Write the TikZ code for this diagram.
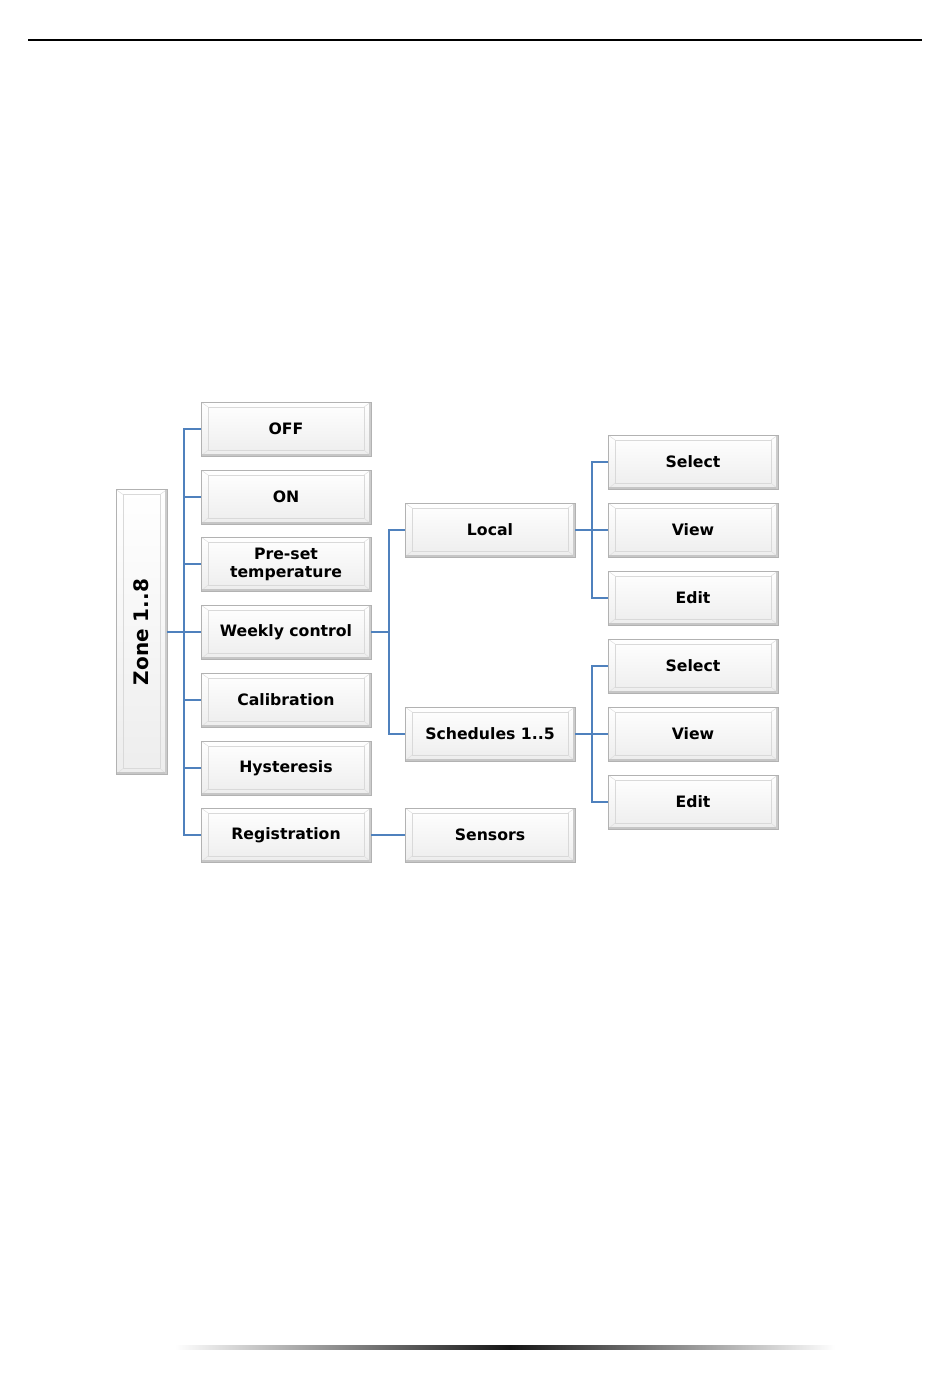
\documentclass[tikz,border=0pt]{standalone}
\usepackage{fontspec}
\newfontfamily\vfont{DejaVu Sans}
\definecolor{conn}{RGB}{79,129,189}
\begin{document}
\begin{tikzpicture}[x=1pt,y=-1pt,
  bevel/.style={
    rectangle, inner sep=0pt, draw=gray!60, line width=0.8pt,
    top color=white, bottom color=gray!14, align=center,
    path picture={
      \coordinate (nw) at (path picture bounding box.north west);
      \coordinate (se) at (path picture bounding box.south east);
      \coordinate (ne) at (path picture bounding box.north east);
      \coordinate (sw) at (path picture bounding box.south west);
      \draw[gray!30, line width=0.6pt]
        ([xshift=7pt,yshift=-5pt]nw) rectangle ([xshift=-7pt,yshift=6pt]se);
      \draw[gray!25, line width=0.5pt] (nw) -- ([xshift=7pt,yshift=-5pt]nw)
        (ne) -- ([xshift=-7pt,yshift=-5pt]ne)
        (sw) -- ([xshift=7pt,yshift=6pt]sw)
        (se) -- ([xshift=-7pt,yshift=6pt]se);
      \fill[gray!45] ([yshift=2.2pt]sw) rectangle (se);
      \fill[gray!40] ([xshift=-1.6pt]ne) rectangle (se);
    }},
  btn/.style={bevel, minimum width=170pt, minimum height=54pt,
    font=\vfont\bfseries\fontsize{15.7}{18}\selectfont},
  zonebox/.style={bevel, minimum width=51pt, minimum height=285pt,
    font=\vfont\bfseries\fontsize{20}{24}\selectfont},
  link/.style={draw=conn, line width=1.8pt}
]
\useasboundingbox (0,0) rectangle (950,1384);
% header rule
\draw[line width=1.4pt] (28,40) -- (922,40);
% footer gradient rule
\shade[left color=white, right color=black!92] (175,1345) rectangle (510,1349);
\shade[left color=black!92, right color=white] (510,1345) rectangle (835,1349);

% root
\node[zonebox] (zone) at (141.5,632) {\rotatebox{90}{Zone 1..8}};

% column 1
\node[btn] (off)   at (286,429) {OFF};
\node[btn] (on)    at (286,497) {ON};
\node[btn] (pre)   at (286,564) {Pre-set\\temperature};
\node[btn] (week)  at (286,632) {Weekly control};
\node[btn] (cal)   at (286,700) {Calibration};
\node[btn] (hyst)  at (286,768) {Hysteresis};
\node[btn] (reg)   at (286,835) {Registration};

% column 2
\node[btn] (local) at (490,530) {Local};
\node[btn] (sched) at (490,734) {Schedules 1..5};
\node[btn] (sens)  at (490,835) {Sensors};

% column 3
\node[btn] (sel1)  at (693,462) {Select};
\node[btn] (view1) at (693,530) {View};
\node[btn] (edit1) at (693,598) {Edit};
\node[btn] (sel2)  at (693,666) {Select};
\node[btn] (view2) at (693,734) {View};
\node[btn] (edit2) at (693,802) {Edit};

% bus coordinates
\coordinate (b1) at (184,0);
\coordinate (b2) at (389,0);
\coordinate (b3) at (592,0);

% connectors: zone -> column 1
\draw[link] (zone.east) -- (zone.east -| b1);
\draw[link] (off.west) -- (off.west -| b1) -- (reg.west -| b1) -- (reg.west);
\draw[link] (on.west) -- (on.west -| b1);
\draw[link] (pre.west) -- (pre.west -| b1);
\draw[link] (week.west) -- (week.west -| b1);
\draw[link] (cal.west) -- (cal.west -| b1);
\draw[link] (hyst.west) -- (hyst.west -| b1);

% weekly control -> local / schedules
\draw[link] (week.east) -- (week.east -| b2);
\draw[link] (local.west) -- (local.west -| b2) -- (sched.west -| b2) -- (sched.west);

% registration -> sensors
\draw[link] (reg.east) -- (sens.west);

% local -> select/view/edit
\draw[link] (local.east) -- (local.east -| b3);
\draw[link] (sel1.west) -- (sel1.west -| b3) -- (edit1.west -| b3) -- (edit1.west);
\draw[link] (view1.west) -- (view1.west -| b3);

% schedules -> select/view/edit
\draw[link] (sched.east) -- (sched.east -| b3);
\draw[link] (sel2.west) -- (sel2.west -| b3) -- (edit2.west -| b3) -- (edit2.west);
\draw[link] (view2.west) -- (view2.west -| b3);
\end{tikzpicture}
\end{document}
